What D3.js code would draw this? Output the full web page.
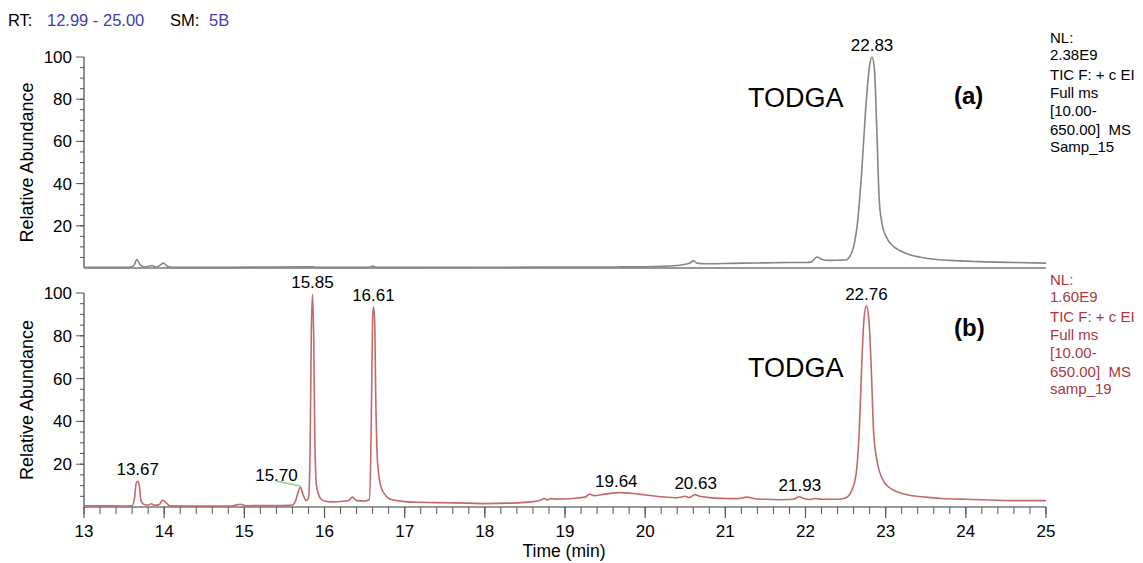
<!DOCTYPE html>
<html>
<head>
<meta charset="utf-8">
<script src="https://cdn.jsdelivr.net/npm/d3@7"></script>
<style>
  body { margin: 0; background: #fff; }
  svg { font-family: "Liberation Sans", Arial, sans-serif; }
  text { white-space: pre; }
</style>
</head>
<body>
<div id="chart"></div>
<script>
// Trace (a): TODGA standard, [time (min), relative abundance]
const traceA = [
  [13.00, 0.3], [13.55, 0.3], [13.62, 1], [13.66, 4], [13.70, 1.5], [13.76, 0.5],
  [13.85, 1.2], [13.90, 0.4], [13.96, 1.6], [13.99, 2.4], [14.04, 0.8], [14.10, 0.3],
  [14.80, 0.3], [15.85, 0.6], [15.90, 0.3], [16.55, 0.3], [16.60, 0.9], [16.65, 0.3],
  [18.60, 0.4], [19.60, 0.5], [20.00, 0.6], [20.40, 1.2], [20.50, 1.8], [20.56, 2.4],
  [20.60, 3.4], [20.65, 2.3], [20.75, 2.0], [21.00, 2.1], [21.20, 2.3], [21.40, 2.4],
  [21.60, 2.5], [21.80, 2.6], [22.00, 2.6], [22.08, 3.0], [22.14, 5.2], [22.20, 4.2],
  [22.30, 3.6], [22.40, 3.7], [22.50, 3.8], [22.56, 6], [22.60, 10], [22.65, 22],
  [22.70, 45], [22.75, 75], [22.80, 96], [22.83, 100], [22.86, 94], [22.89, 65],
  [22.92, 32], [22.96, 20], [23.01, 14.5], [23.09, 10.5], [23.17, 8.4], [23.30, 6.3],
  [23.45, 5], [23.58, 4.3], [23.80, 3.6], [24.17, 3], [24.60, 2.6], [25.00, 2.3]
];

// Trace (b): samp_19
const traceB = [
  [13.00, 0.6], [13.30, 0.6], [13.50, 0.5], [13.60, 0.6], [13.63, 4], [13.65, 11],
  [13.67, 12], [13.69, 10], [13.71, 3], [13.75, 1.2], [13.80, 0.9], [13.84, 1.5],
  [13.88, 0.8], [13.94, 1.2], [13.98, 3.2], [14.02, 2.2], [14.07, 0.6], [14.50, 0.4],
  [14.85, 0.5], [14.95, 1.3], [15.02, 0.6], [15.50, 0.7], [15.60, 0.9], [15.64, 3],
  [15.68, 8], [15.70, 9.3], [15.73, 6], [15.77, 3], [15.80, 4], [15.82, 25],
  [15.835, 80], [15.85, 99.5], [15.865, 80], [15.88, 30], [15.90, 10], [15.95, 4],
  [16.00, 2.8], [16.10, 2.4], [16.20, 2.6], [16.30, 3], [16.35, 4.6], [16.40, 3],
  [16.50, 2.8], [16.56, 3.5], [16.58, 30], [16.60, 88], [16.61, 93.6], [16.625, 88],
  [16.64, 50], [16.66, 22], [16.70, 10], [16.75, 6], [16.80, 4], [16.90, 3],
  [17.00, 2.5], [17.20, 2.2], [17.50, 2], [17.80, 1.8], [18.00, 1.6], [18.30, 1.8],
  [18.60, 2.5], [18.70, 3.3], [18.74, 4], [18.78, 3.3], [18.82, 3.9], [18.90, 3.7],
  [19.10, 4], [19.25, 4.6], [19.31, 6], [19.36, 5.3], [19.50, 6], [19.68, 6.7],
  [19.85, 6.3], [20.00, 5.6], [20.20, 4.8], [20.40, 4.3], [20.50, 5], [20.55, 4.4],
  [20.62, 5.8], [20.68, 5], [20.80, 4.4], [21.00, 4], [21.15, 3.9], [21.27, 4.6],
  [21.35, 4], [21.50, 3.6], [21.70, 3.4], [21.85, 3.6], [21.92, 4.8], [21.98, 4],
  [22.05, 3.5], [22.12, 4], [22.20, 3.6], [22.40, 3.6], [22.50, 4.2], [22.58, 8],
  [22.63, 15], [22.67, 35], [22.70, 65], [22.73, 88], [22.76, 94], [22.79, 88],
  [22.82, 65], [22.85, 35], [22.90, 20], [22.96, 13], [23.05, 9], [23.15, 7],
  [23.30, 5.5], [23.50, 4.6], [23.70, 4], [24.00, 3.6], [24.30, 3.3], [24.60, 3],
  [25.00, 3]
];

// Peak labels: [time, label height (abundance)]
const peaksA = [[22.83, 100]];
const peaksB = [[13.67, 12], [15.70, 9.3], [15.85, 99.5], [16.61, 93.6],
                [19.64, 6.7], [20.63, 5.8], [21.93, 4.8], [22.76, 94]];

// Axis ticks
const xTicks = [13, 14, 15, 16, 17, 18, 19, 20, 21, 22, 23, 24, 25];
const yTicks = [20, 40, 60, 80, 100];

// Side text blocks
const infoA = ["NL:", "2.38E9", "TIC F: + c EI", "Full ms", "[10.00-", "650.00]  MS", "Samp_15"];
const infoB = ["NL:", "1.60E9", "TIC F: + c EI", "Full ms", "[10.00-", "650.00]  MS", "samp_19"];
const infoOffsets = [0, 16.5, 36.5, 54.5, 72.5, 91.5, 109];

// Layout
const w = 1143;
const h = 563;
const x0 = 84;
const x1 = 1046;

const svg = d3.select("#chart")
              .append("svg")
              .attr("width", w)
              .attr("height", h);

const x = d3.scaleLinear().domain([13, 25]).range([x0, x1]);

// header line
const header = svg.append("g").attr("font-size", 16.5);
header.append("text").attr("x", 8).attr("y", 26).attr("fill", "#000").text("RT:");
header.append("text").attr("x", 47).attr("y", 26).attr("fill", "#3c3cb4").text("12.99 - 25.00");
header.append("text").attr("x", 170).attr("y", 26).attr("fill", "#000").text("SM:");
header.append("text").attr("x", 209).attr("y", 26).attr("fill", "#3c3cb4").text("5B");

// draw one panel
const drawPanel = (trace, peaks, top, bottom, color, info, infoColor, infoY, tag, tagY, todgaY) => {
    const y = d3.scaleLinear().domain([0, 100]).range([bottom, top]);
    const g = svg.append("g");

    // y axis line + ticks
    g.append("line")
     .attr("x1", x0).attr("x2", x0)
     .attr("y1", y(100)).attr("y2", y(0))
     .attr("stroke", "#555").attr("stroke-width", 1.3);

    g.selectAll(".minor")
     .data(d3.range(5, 100, 5))
     .enter()
     .append("line")
     .attr("x1", x0 - 4).attr("x2", x0)
     .attr("y1", d => y(d)).attr("y2", d => y(d))
     .attr("stroke", "#555").attr("stroke-width", 1);

    g.selectAll(".major")
     .data(yTicks)
     .enter()
     .append("line")
     .attr("x1", x0 - 8).attr("x2", x0)
     .attr("y1", d => y(d)).attr("y2", d => y(d))
     .attr("stroke", "#555").attr("stroke-width", 1);

    g.selectAll(".ylab")
     .data(yTicks)
     .enter()
     .append("text")
     .attr("x", x0 - 12)
     .attr("y", d => y(d) + 6)
     .attr("text-anchor", "end")
     .attr("font-size", 17)
     .text(d => d);

    g.append("text")
     .attr("transform", `translate(33,${(top + bottom) / 2}) rotate(-90)`)
     .attr("text-anchor", "middle")
     .attr("font-size", 18)
     .text("Relative Abundance");

    // baseline
    g.append("line")
     .attr("x1", x0).attr("x2", x1)
     .attr("y1", y(0)).attr("y2", y(0))
     .attr("stroke", "#777").attr("stroke-width", 1.3);

    // trace
    const line = d3.line()
                   .x(d => x(d[0]))
                   .y(d => y(d[1]))
                   .curve(d3.curveMonotoneX);
    g.append("path")
     .datum(trace)
     .attr("d", line)
     .attr("fill", "none")
     .attr("stroke", color)
     .attr("stroke-width", 1.6);

    // peak labels
    g.selectAll(".peak")
     .data(peaks)
     .enter()
     .append("text")
     .attr("x", d => d[0] === 15.70 ? x(d[0]) - 24 : x(d[0]))
     .attr("y", d => y(d[1]) - 6)
     .attr("text-anchor", "middle")
     .attr("font-size", 17)
     .text(d => d[0].toFixed(2));

    // side info
    g.selectAll(".info")
     .data(info)
     .enter()
     .append("text")
     .attr("x", 1050)
     .attr("y", (d, i) => infoY + infoOffsets[i])
     .attr("font-size", 15)
     .attr("fill", infoColor)
     .text(d => d);

    g.append("text")
     .attr("x", 954).attr("y", tagY)
     .attr("font-size", 24).attr("font-weight", "bold")
     .text(tag);

    g.append("text")
     .attr("x", 748).attr("y", todgaY)
     .attr("font-size", 27)
     .text("TODGA");

    return y;
};

const yA = drawPanel(traceA, peaksA, 57, 268, "#858585", infoA, "#000", 43, "(a)", 104, 107);
const yB = drawPanel(traceB, peaksB, 293, 507, "#c4696a", infoB, "#a8383c", 285, "(b)", 336, 377);

// green leader line under 15.70
svg.append("line")
   .attr("x1", x(15.70) - 24).attr("x2", x(15.70))
   .attr("y1", yB(12)).attr("y2", yB(9.8))
   .attr("stroke", "#8fd48f").attr("stroke-width", 1.5);

// x axis (bottom panel)
const xg = svg.append("g");
xg.selectAll(".xminor")
  .data(d3.range(0, 61).map(i => 13 + i * 0.2))
  .enter()
  .append("line")
  .attr("x1", d => x(d)).attr("x2", d => x(d))
  .attr("y1", 507).attr("y2", 514)
  .attr("stroke", "#555").attr("stroke-width", 1);

xg.selectAll(".xmajor")
  .data(xTicks)
  .enter()
  .append("line")
  .attr("x1", d => x(d)).attr("x2", d => x(d))
  .attr("y1", 507).attr("y2", 518)
  .attr("stroke", "#555").attr("stroke-width", 1.2);

xg.selectAll(".xlab")
  .data(xTicks)
  .enter()
  .append("text")
  .attr("x", d => x(d))
  .attr("y", 537)
  .attr("text-anchor", "middle")
  .attr("font-size", 17)
  .text(d => d);

svg.append("text")
   .attr("x", 564).attr("y", 557)
   .attr("text-anchor", "middle")
   .attr("font-size", 17.5)
   .text("Time (min)");
</script>
</body>
</html>
